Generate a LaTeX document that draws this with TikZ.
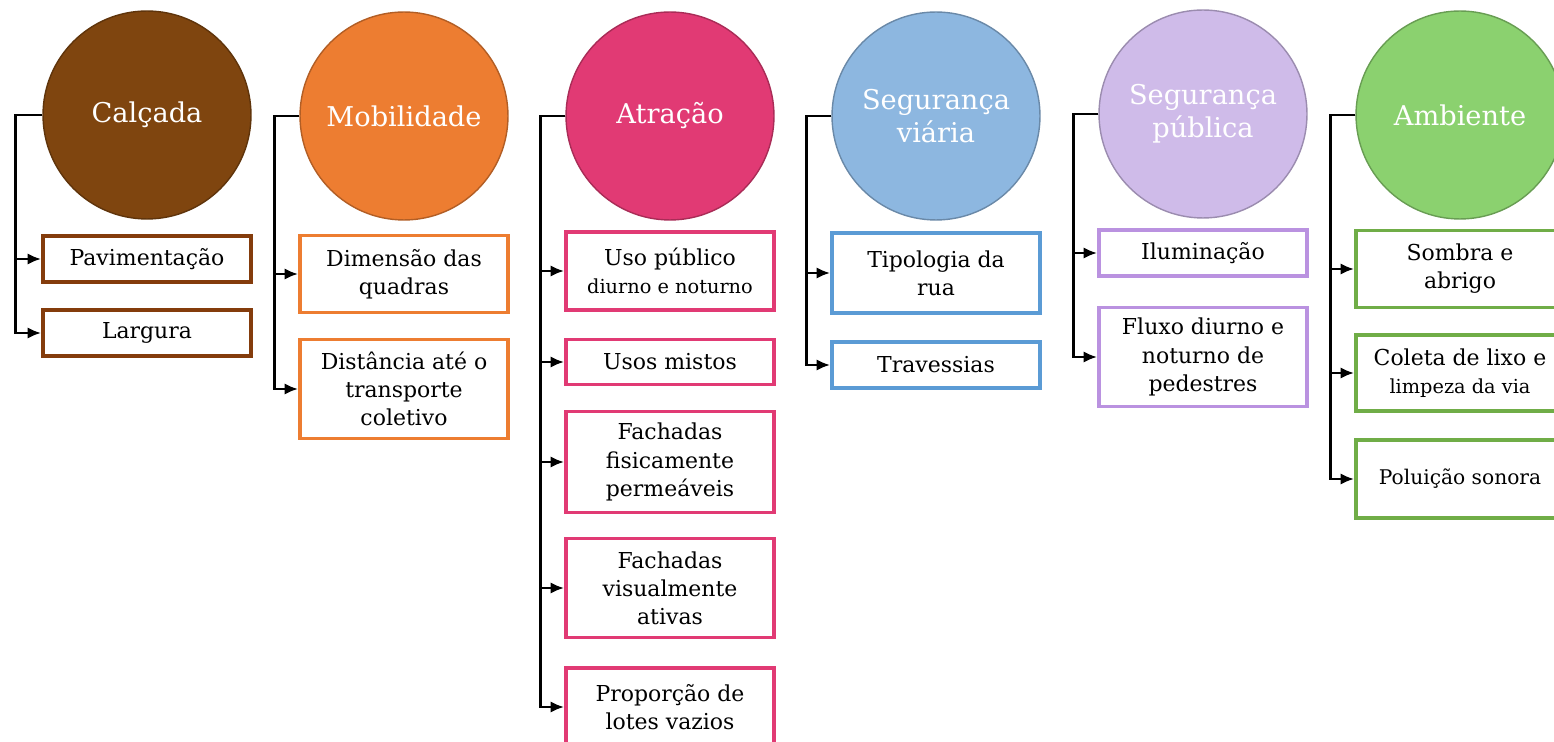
\documentclass[tikz,border=0pt]{standalone}
\usepackage{fontspec}
\setmainfont{DejaVu Serif}
\usetikzlibrary{arrows.meta}

\definecolor{calcada}{HTML}{7F450F}
\definecolor{calcadab}{HTML}{843C0C}
\definecolor{mobil}{HTML}{ED7D31}
\definecolor{atrac}{HTML}{E13A74}
\definecolor{segvia}{HTML}{8DB7E0}
\definecolor{segviab}{HTML}{5B9BD5}
\definecolor{segpub}{HTML}{CFBBE9}
\definecolor{segpubb}{HTML}{BA92E0}
\definecolor{ambi}{HTML}{8BD16F}
\definecolor{ambib}{HTML}{70AD47}

\begin{document}
\begin{tikzpicture}[>={Latex[length=2.7mm,width=2.3mm]}, x=0.02cm, y=-0.02cm,
  tema/.style={circle, fill=#1, draw=#1!75!black, line width=0.8pt, minimum size=4.16cm, inner sep=0pt,
    text=white, align=center, font=\fontsize{15.5}{19}\selectfont},
  item/.style={rectangle, draw=#1, line width=2.2pt, fill=white, minimum width=4.16cm, inner sep=0pt,
    align=center, font=\fontsize{12.5}{16}\selectfont},
  alt/.style={minimum height=#1*0.02cm},
  liga/.style={->, line width=1.5pt}]
\useasboundingbox (0,0) rectangle (1554,742);

\path
(147,115)  node[tema=calcada] (C1) {Calçada}
+(0,144)   node[item=calcadab, alt=46] (C1a) {Pavimentação}
+(0,218)   node[item=calcadab, alt=46] (C1b) {Largura}

(404,116)  node[tema=mobil] (C2) {Mobilidade}
+(0,158)   node[item=mobil, alt=77] (C2a) {Dimensão das\\quadras}
+(0,273)   node[item=mobil, alt=99] (C2b) {Distância até o\\transporte\\coletivo}

(670,116)  node[tema=atrac] (C3) {Atração}
+(0,155)   node[item=atrac, alt=78] (C3a) {Uso público\\{\fontsize{11}{14}\selectfont diurno e noturno}}
+(0,246)   node[item=atrac, alt=45] (C3b) {Usos mistos}
+(0,346)   node[item=atrac, alt=101] (C3c) {Fachadas\\fisicamente\\permeáveis}
+(0,472)   node[item=atrac, alt=99] (C3d) {Fachadas\\visualmente\\ativas}
+(0,591)   node[item=atrac, alt=78] (C3e) {Proporção de\\lotes vazios}

(936,116)  node[tema=segvia] (C4) {Segurança\\viária}
+(0,157)   node[item=segviab, alt=80] (C4a) {Tipologia da\\rua}
+(0,249)   node[item=segviab, alt=46] (C4b) {Travessias}

(1203,114) node[tema=segpub] (C5) {Segurança\\pública}
+(0,139)   node[item=segpubb, alt=46] (C5a) {Iluminação}
+(0,243)   node[item=segpubb, alt=99] (C5b) {Fluxo diurno e\\noturno de\\pedestres}

(1460,115) node[tema=ambi] (C6) {Ambiente}
+(0,154)   node[item=ambib, alt=77] (C6a) {Sombra e\\abrigo}
+(0,258)   node[item=ambib, alt=76] (C6b) {Coleta de lixo e\\{\fontsize{11}{14}\selectfont limpeza da via}}
+(0,364)   node[item=ambib, alt=78, font=\fontsize{11.5}{14}\selectfont] (C6c) {Poluição sonora};

\draw[liga] (C1.west) -- ++(-27,0) |- (C1a.west);
\draw[liga] (C1.west) -- ++(-27,0) |- (C1b.west);

\draw[liga] (C2.west) -- ++(-25,0) |- (C2a.west);
\draw[liga] (C2.west) -- ++(-25,0) |- (C2b.west);

\draw[liga] (C3.west) -- ++(-25,0) |- (C3a.west);
\draw[liga] (C3.west) -- ++(-25,0) |- (C3b.west);
\draw[liga] (C3.west) -- ++(-25,0) |- (C3c.west);
\draw[liga] (C3.west) -- ++(-25,0) |- (C3d.west);
\draw[liga] (C3.west) -- ++(-25,0) |- (C3e.west);

\draw[liga] (C4.west) -- ++(-25,0) |- (C4a.west);
\draw[liga] (C4.west) -- ++(-25,0) |- (C4b.west);

\draw[liga] (C5.west) -- ++(-25,0) |- (C5a.west);
\draw[liga] (C5.west) -- ++(-25,0) |- (C5b.west);

\draw[liga] (C6.west) -- ++(-25,0) |- (C6a.west);
\draw[liga] (C6.west) -- ++(-25,0) |- (C6b.west);
\draw[liga] (C6.west) -- ++(-25,0) |- (C6c.west);
\end{tikzpicture}
\end{document}
